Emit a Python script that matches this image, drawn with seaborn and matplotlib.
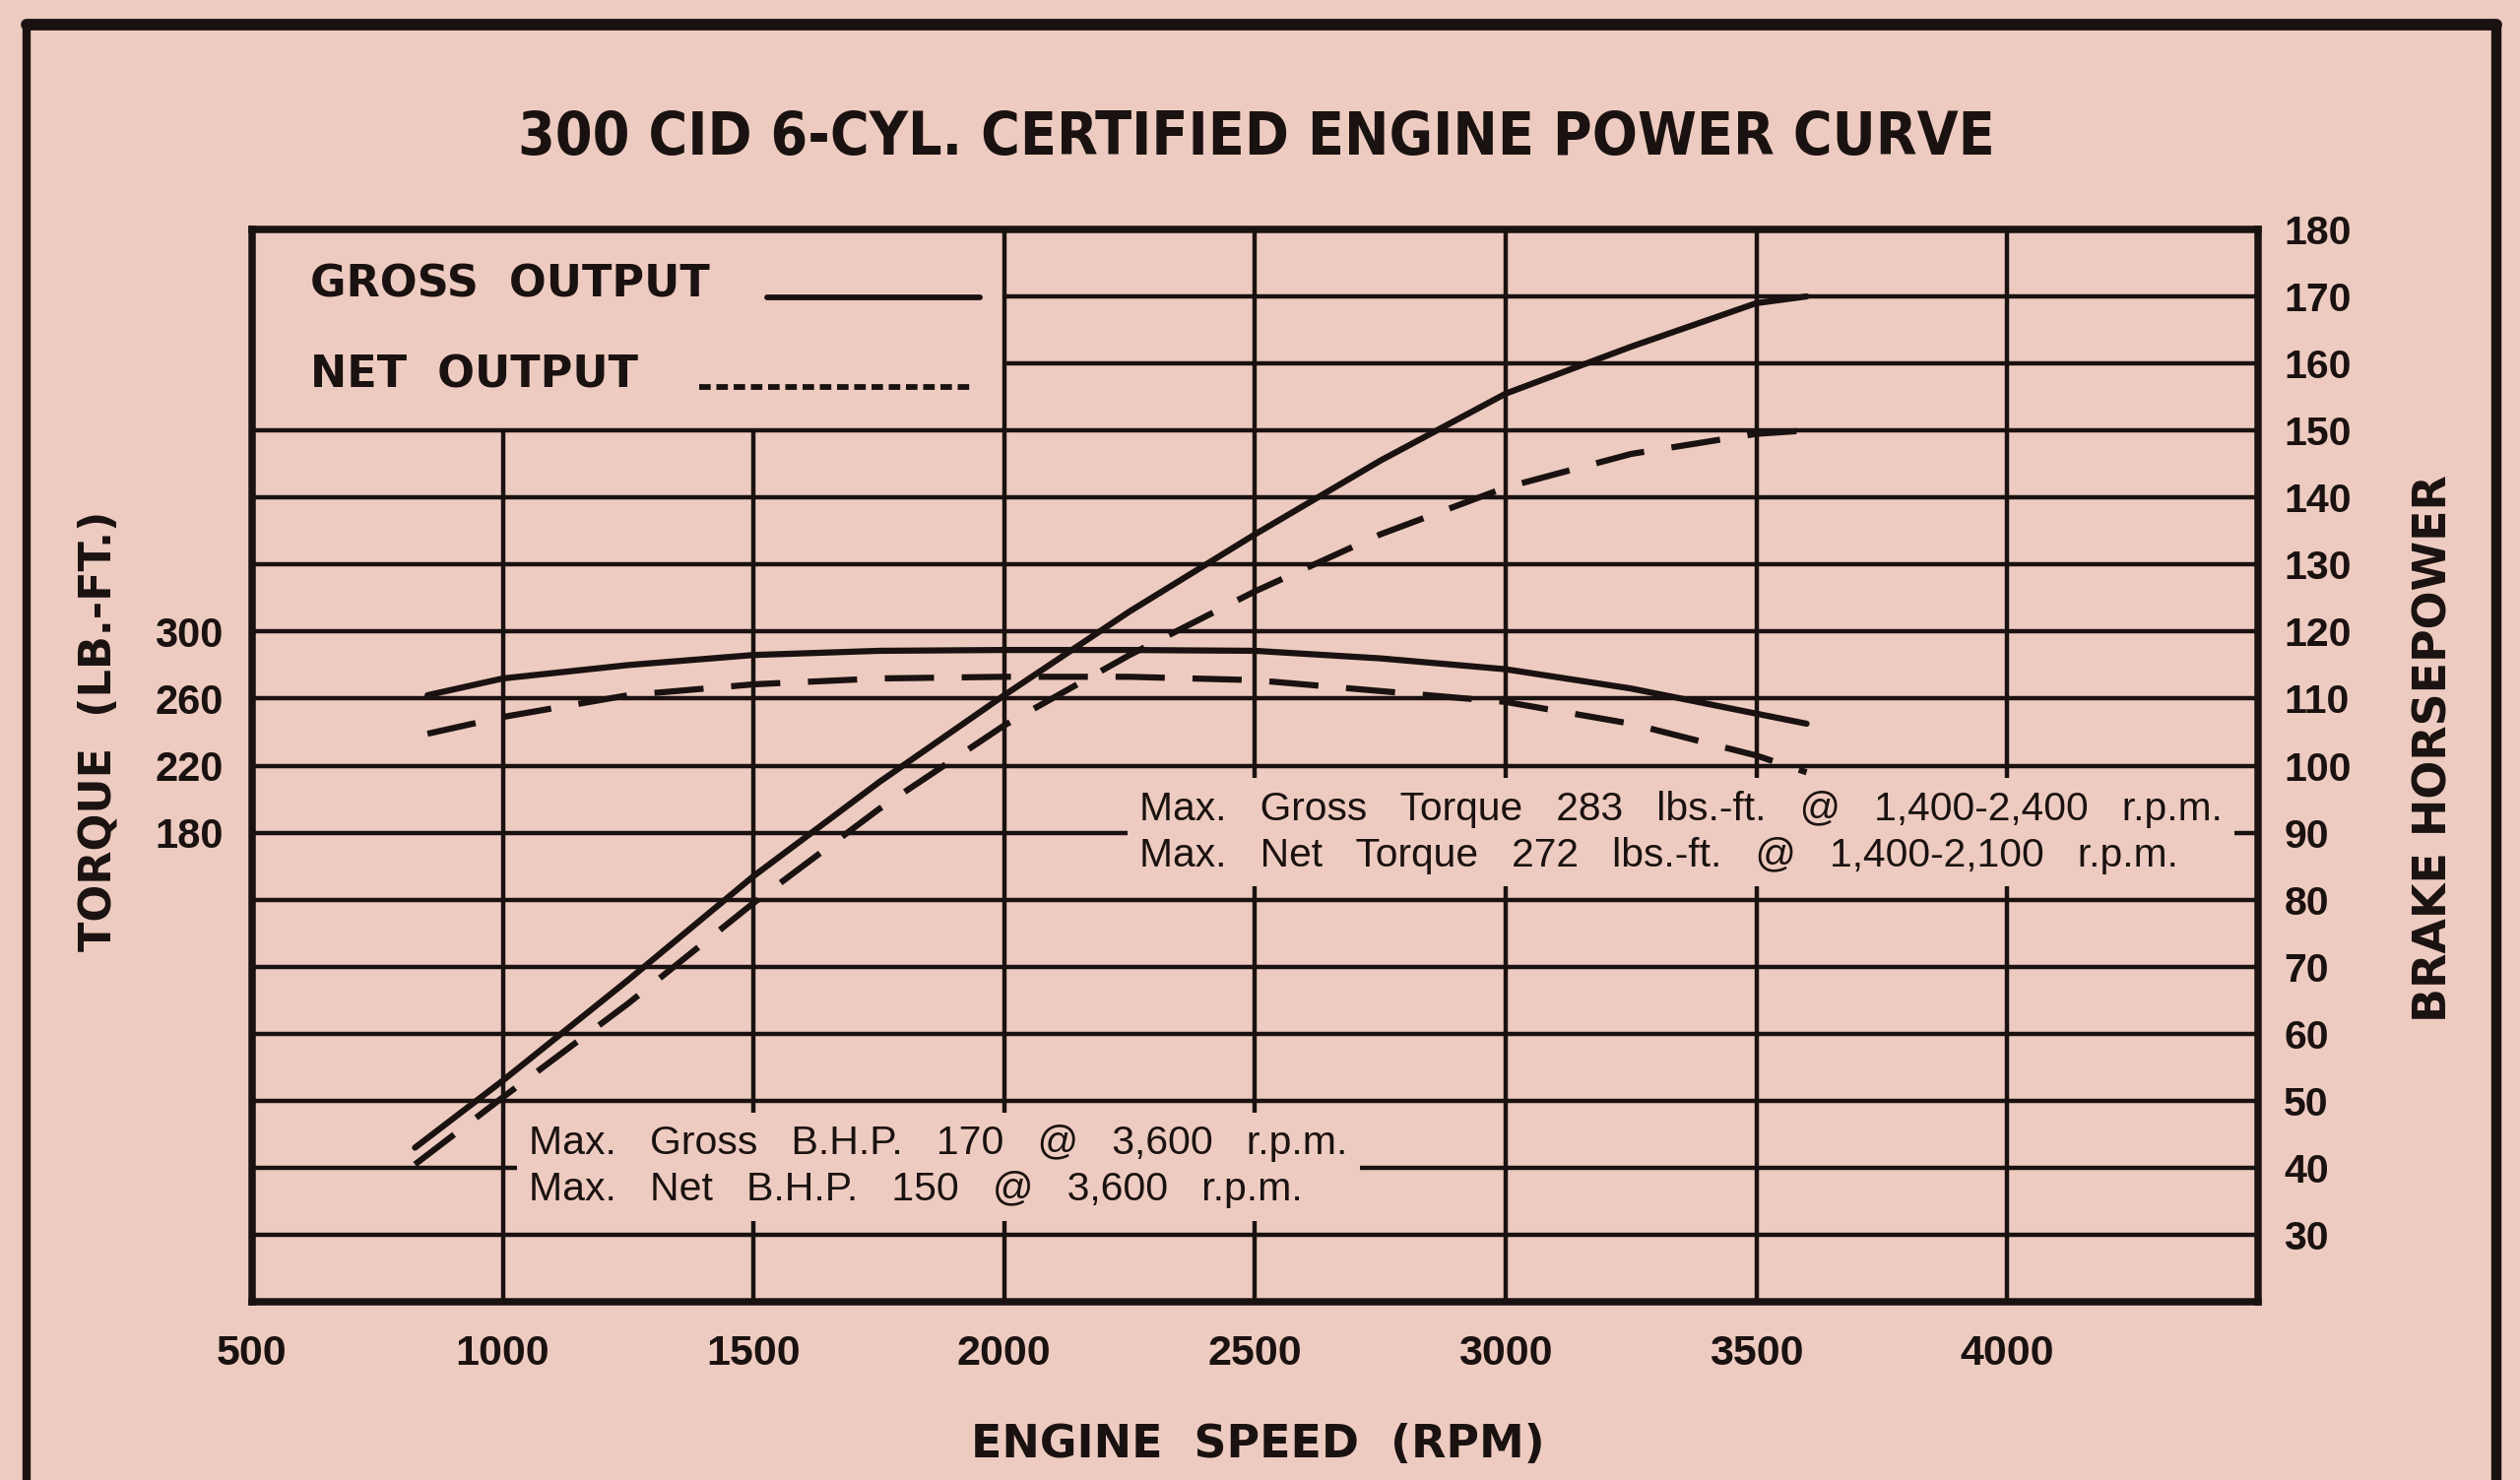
import matplotlib
matplotlib.use("Agg")
import matplotlib.pyplot as plt
import seaborn as sns
from matplotlib import font_manager
from matplotlib.font_manager import FontProperties
from matplotlib.lines import Line2D

# readings taken off the printed curves (engine speed in rpm)
rpm_hp = [825, 1000, 1250, 1500, 1750, 2000, 2250, 2500, 2750, 3000, 3250, 3500, 3600]
gross_hp = [43, 53, 68, 83.5, 97.5, 110.5, 123, 134.5, 145.5, 155.5, 162.5, 169, 170]
net_hp = [40.5, 50.5, 64.5, 79.5, 93.5, 106, 116.5, 126, 134.5, 141.5, 146.5, 149.5, 150]

rpm_tq = [850, 1000, 1250, 1500, 1750, 2000, 2250, 2500, 2750, 3000, 3250, 3500, 3600]
gross_torque = [262, 272, 280, 286, 288.5, 289, 289, 288.5, 284, 277.5, 266, 251, 245]
net_torque = [239, 249, 262, 268.5, 272, 273, 273, 271, 264.5, 258, 245, 226, 216]

rpm_ticks = [500, 1000, 1500, 2000, 2500, 3000, 3500, 4000]
hp_ticks = [30, 40, 50, 60, 70, 80, 90, 100, 110, 120, 130, 140, 150, 160, 170, 180]
torque_ticks = [180, 220, 260, 300]

title = "300 CID 6-CYL. CERTIFIED ENGINE POWER CURVE"
torque_note = ["Max. Gross Torque 283 lbs.-ft. @ 1,400-2,400 r.p.m.",
               "Max. Net Torque 272 lbs.-ft. @ 1,400-2,100 r.p.m."]
hp_note = ["Max. Gross B.H.P. 170 @ 3,600 r.p.m.",
           "Max. Net B.H.P. 150 @ 3,600 r.p.m."]

BG = "#eecbc0"
INK = "#1a1210"

sns.set_theme(style="white", rc={"axes.facecolor": BG, "figure.facecolor": BG})
plt.rcParams["font.family"] = ["Liberation Sans", "DejaVu Sans"]

# a condensed bold face for the title if one is installed
title_font = FontProperties(family="Liberation Sans", weight="bold")
for f in font_manager.fontManager.ttflist:
    cond = f.stretch in ("condensed", "semi-condensed") or "Narrow" in f.name or "Condensed" in f.name
    if cond and f.weight in ("bold", 700, "700") and f.style == "normal":
        title_font = FontProperties(fname=f.fname)
        break

fig = plt.figure(figsize=(25.59, 15.03), dpi=100)
ax = fig.add_axes([0.1000, 0.1204, 0.7960, 0.7246])   # horsepower scale (right)
axt = ax.twinx()                                       # torque scale (left)

# chart limits: 500-4500 rpm, 20-180 hp; torque scale = 4*hp - 180
ax.set_xlim(500, 4500)
ax.set_ylim(20, 180)
axt.set_ylim(4 * 20 - 180, 4 * 180 - 180)

# grid, cut out where the legend block sits
legend_top, legend_right = 150, 2000
grid_kw = dict(color=INK, lw=3.2, zorder=1)
for hp in hp_ticks[:-1]:
    ax.hlines(hp, legend_right if hp > legend_top else 500, 4500, **grid_kw)
for r in rpm_ticks[1:]:
    ax.vlines(r, 20, legend_top if r < legend_right else 180, **grid_kw)

line_kw = dict(color=INK, lw=4.5, zorder=4)
dash = (0, (8, 4.5))
sns.lineplot(x=rpm_hp, y=gross_hp, ax=ax, **line_kw)
sns.lineplot(x=rpm_hp, y=net_hp, ax=ax, linestyle=dash, **line_kw)
sns.lineplot(x=rpm_tq, y=gross_torque, ax=axt, **line_kw)
sns.lineplot(x=rpm_tq, y=net_torque, ax=axt, linestyle=dash, **line_kw)

# notes with paper-coloured boxes that hide the grid behind them
note_kw = dict(ha="left", va="top", fontsize=29.5, color=INK, linespacing=1.3, zorder=3,
               bbox=dict(boxstyle="square,pad=0.3", facecolor=BG, edgecolor="none"))
ax.text(2269, 96.3, "\n".join("   ".join(s.split()) for s in torque_note),
        **dict(note_kw, fontsize=29.3))
ax.text(1052, 46.4, "\n".join("   ".join(s.split()) for s in hp_note), **note_kw)

# legend block
leg_kw = dict(transform=ax.transAxes, fontsize=32, fontweight="bold", color=INK,
              family="DejaVu Sans", va="baseline", ha="left")
ax.text(0.029, 0.937, "GROSS  OUTPUT", **leg_kw)
ax.text(0.029, 0.853, "NET  OUTPUT", **leg_kw)
ax.plot([0.257, 0.363], [0.937, 0.937], transform=ax.transAxes, color=INK, lw=4.2)
ax.plot([0.223, 0.358], [0.853, 0.853], transform=ax.transAxes, color=INK, lw=4.2,
        linestyle=(0, (2.0, 1.0)))

# ticks
tick_font = dict(fontsize=31, fontweight="bold", family="Liberation Sans", color=INK)
ax.set_xticks(rpm_ticks, [str(v) for v in rpm_ticks], **tick_font)
ax.set_yticks(hp_ticks, [str(v) for v in hp_ticks], **dict(tick_font, fontsize=29.5))
axt.set_yticks(torque_ticks, [str(v) for v in torque_ticks], **dict(tick_font, fontsize=30))
ax.tick_params(axis="x", length=0, pad=24)
ax.tick_params(axis="y", left=False, right=True, labelleft=False, labelright=True,
               length=0, pad=19)
axt.tick_params(axis="y", left=True, right=False, labelleft=True, labelright=False,
                length=0, pad=21)
ax.set_xlabel("")
ax.set_ylabel("")
axt.set_ylabel("")

for s in ax.spines.values():
    s.set_color(INK)
    s.set_linewidth(5.4)
    s.set_zorder(5)
for s in axt.spines.values():
    s.set_visible(False)

# title, sized to the printed width
t = fig.text(0.4987, 0.8955, title, ha="center", va="baseline", fontproperties=title_font,
             color=INK)
t.set_fontsize(44)
w = t.get_window_extent(renderer=fig.canvas.get_renderer()).width
t.set_fontsize(44 * 1500 / w)

fig.text(0.499, 0.0153, "ENGINE  SPEED  (RPM)", ha="center", va="baseline", fontsize=33,
         fontweight="bold", family="DejaVu Sans", color=INK)
fig.text(0.0391, 0.5063, "TORQUE  (LB.-FT.)", rotation=90, ha="center", va="center",
         fontsize=32, fontweight="bold", family="DejaVu Sans", color=INK)
fig.text(0.966, 0.4943, "BRAKE HORSEPOWER", rotation=90, ha="center", va="center",
         fontsize=33, fontweight="bold", family="DejaVu Sans", color=INK)

# printed border around the page
fig.add_artist(Line2D([0.0106, 0.0106], [0, 0.9835], color=INK, lw=6))
fig.add_artist(Line2D([0.9906, 0.9906], [0, 0.9835], color=INK, lw=7.5))
fig.add_artist(Line2D([0.0106, 0.9906], [0.9835, 0.9835], color=INK, lw=8.5))

fig.savefig("out.png", dpi=100, facecolor=BG)
